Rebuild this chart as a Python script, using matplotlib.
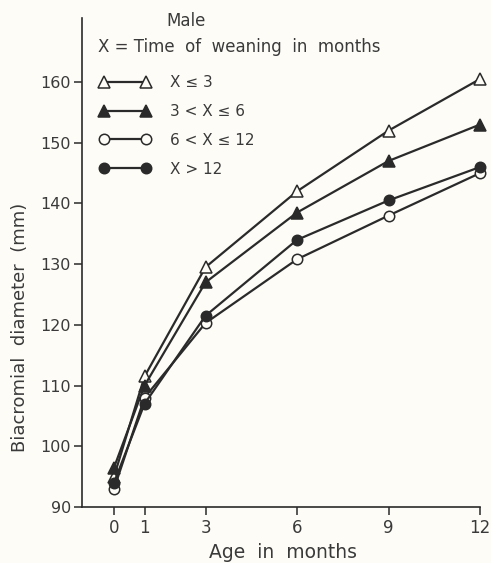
import matplotlib.pyplot as plt

# age in months and biacromial diameter (mm) per weaning group
ages = [0, 1, 3, 6, 9, 12]
wean_le3 = [95.0, 111.5, 129.5, 142.0, 152.0, 160.5]
wean_3_6 = [96.5, 110.0, 127.0, 138.5, 147.0, 153.0]
wean_6_12 = [93.0, 108.0, 120.3, 130.8, 138.0, 145.0]
wean_gt12 = [94.0, 107.0, 121.5, 134.0, 140.5, 146.0]

labels = ["X ≤ 3", "3 < X ≤ 6", "6 < X ≤ 12", "X > 12"]
yticks = [90, 100, 110, 120, 130, 140, 150, 160]

ink = "#2a2a2a"
txt = "#3a3a3a"
paper = "#fdfcf7"
plt.rcParams["font.family"] = ["DejaVu Sans"]

fig = plt.figure(figsize=(4.91, 5.63), dpi=100, facecolor=paper)
ax = fig.add_axes([0.167, 0.0995, 0.8106, 0.8685], facecolor=paper)

styles = [
    dict(marker="^", mfc=paper),
    dict(marker="^", mfc=ink),
    dict(marker="o", mfc=paper),
    dict(marker="o", mfc=ink),
]
series = [wean_le3, wean_3_6, wean_6_12, wean_gt12]

handles = []
for vals, st, lab in zip(series, styles, labels):
    ms = 8.5 if st["marker"] == "^" else 7.5
    (ln,) = ax.plot(ages, vals, color=ink, lw=1.6, marker=st["marker"],
                    ms=ms, mfc=st["mfc"], mec=ink, mew=1.1, label=lab,
                    zorder=3, clip_on=False)
    handles.append(ln)

ax.set_xlim(-1.05, 12)
ax.set_ylim(90, 170.55)
ax.set_xticks(ages)
ax.set_yticks(yticks)

for side in ["top", "right"]:
    ax.spines[side].set_visible(False)
for side in ["left", "bottom"]:
    ax.spines[side].set_color(ink)
    ax.spines[side].set_linewidth(1.2)

ax.tick_params(axis="both", colors=ink, labelcolor=txt, width=1.1,
               length=6, labelsize=11.5)
ax.tick_params(axis="x", labelsize=12, pad=3)
ax.tick_params(axis="y", pad=2)

ax.set_ylabel("Biacromial  diameter  (mm)", fontsize=13, color=txt,
              ha="center", va="center")
ax.yaxis.set_label_coords(-0.156, 0.368)
ax.set_xlabel("Age  in  months", fontsize=13.5, color=txt,
              ha="center", va="center")
ax.xaxis.set_label_coords(0.505, -0.094)

ax.text(0.213, 0.994, "Male", transform=ax.transAxes, fontsize=12,
        color=txt, ha="left", va="center")
ax.text(0.04, 0.941, "X = Time  of  weaning  in  months",
        transform=ax.transAxes, fontsize=12, color=txt, ha="left",
        va="center")

ax.legend(handles=handles, loc="upper left", bbox_to_anchor=(0.01, 0.911),
          frameon=False, numpoints=2, handlelength=3.3, fontsize=11,
          labelspacing=0.9, handletextpad=1.3, labelcolor=txt)

fig.savefig("out.png", dpi=100, facecolor=paper)
